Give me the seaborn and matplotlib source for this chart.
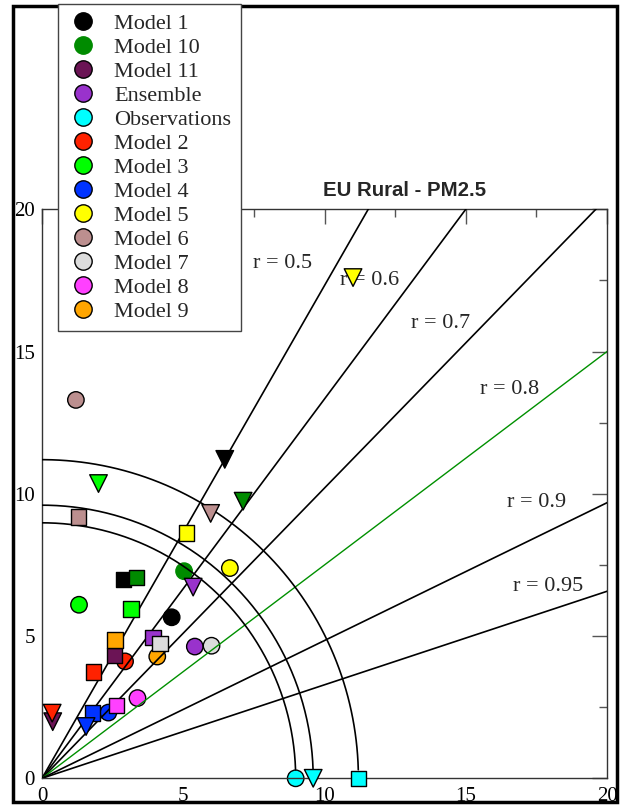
import numpy as np
import pandas as pd
import matplotlib

matplotlib.use("Agg")
import matplotlib.pyplot as plt
import seaborn as sns
from matplotlib.lines import Line2D
from matplotlib.patches import Rectangle
from matplotlib.ticker import MultipleLocator

# --- data ---
models = ["Model 1", "Model 10", "Model 11", "Ensemble", "Observations", "Model 2",
          "Model 3", "Model 4", "Model 5", "Model 6", "Model 7", "Model 8", "Model 9"]
colors = ["#000000", "#008b00", "#6b1455", "#9932cc", "#00ffff", "#ff2200",
          "#00ff00", "#0033ff", "#ffff00", "#bc8f8f", "#dcdcdc", "#ff40ff", "#ffa500"]

circle_x = [4.59, 5.03, np.nan, 5.41, 8.98, 2.94, 1.31, 2.35, 6.65, 1.20, 6.00, 3.38, 4.08]
circle_y = [5.66, 7.28, np.nan, 4.63, 0.00, 4.11, 6.10, 2.31, 7.39, 13.30, 4.66, 2.82, 4.28]
square_x = [2.88, 3.35, 2.56, 3.92, 11.20, 1.82, 3.15, 1.79, 5.12, 1.30, 4.17, 2.64, 2.58]
square_y = [6.98, 7.06, 4.31, 4.95, 0.00, 3.74, 5.96, 2.29, 8.63, 9.19, 4.73, 2.56, 4.87]
tri_x = [6.47, 7.12, 0.38, 5.35, 9.60, 0.36, 2.00, 1.56, 11.01, 5.97, np.nan, np.nan, np.nan]
tri_y = [11.21, 9.74, 1.99, 6.72, 0.00, 2.29, 10.36, 1.82, 17.60, 9.31, np.nan, np.nan, np.nan]

corr_levels = [0.5, 0.6, 0.7, 0.8, 0.9, 0.95]
corr_labels = ["r = 0.5", "r = 0.6", "r = 0.7", "r = 0.8", "r = 0.9", "r = 0.95"]
obs_std = [8.98, 9.6, 11.2]

TITLE = "EU Rural - PM2.5"

palette = dict(zip(models, colors))

sns.set_style("white")
plt.rcParams["font.family"] = ["Liberation Serif", "DejaVu Serif"]

fig = plt.figure(figsize=(6.24, 8.05), dpi=100)
ax = fig.add_axes([42 / 624, 1 - 778.3 / 805, 565 / 624, 569 / 805])

# correlation rays
for r in corr_levels:
    th = np.arccos(r)
    col = "#009000" if r == 0.8 else "black"
    lw = 1.0 if r == 0.8 else 1.2
    ax.plot([0, 30 * np.cos(th)], [0, 30 * np.sin(th)], color=col, lw=lw, zorder=3)

# std-dev arcs of the observations
for R in obs_std:
    t = np.linspace(np.arcsin(0.3 / R), np.pi / 2, 200)
    ax.plot(R * np.cos(t), R * np.sin(t), color="black", lw=1.2, zorder=3)

label_pos = [(8.5, 18.1), (11.6, 17.5), (14.1, 16.0), (16.55, 13.65), (17.5, 9.7), (17.9, 6.75)]
for txt, (lx, ly) in zip(corr_labels, label_pos):
    ax.text(lx, ly, txt, fontsize=16, ha="center", va="center", zorder=3.5)

# markers
shapes = [("o", circle_x, circle_y, 140, 2), ("s", square_x, square_y, 125, 4),
          ("v", tri_x, tri_y, 160, 5)]
for marker, xs, ys, size, z in shapes:
    df = pd.DataFrame({"model": models, "x": xs, "y": ys}).dropna()
    edges = ["#008b00" if (m == "Model 10" and marker == "o") else "black" for m in df["model"]]
    sns.scatterplot(data=df, x="x", y="y", hue="model", palette=palette, marker=marker,
                    s=size, edgecolor=edges, linewidth=1.0, legend=False,
                    zorder=z, clip_on=False, ax=ax)

ax.set_xlim(0, 20)
ax.set_ylim(0, 20)
ax.set_xlabel("")
ax.set_ylabel("")
ax.xaxis.set_major_locator(MultipleLocator(5))
ax.yaxis.set_major_locator(MultipleLocator(5))
ax.xaxis.set_minor_locator(MultipleLocator(2.5))
ax.yaxis.set_minor_locator(MultipleLocator(2.5))
ax.tick_params(which="both", direction="in", top=True, right=True, color="#555555",
               width=1.0, labelsize=15, labelcolor="black")
ax.tick_params(which="major", length=10.8)
ax.tick_params(which="minor", length=5.8)
ax.tick_params(axis="x", pad=6)
ax.tick_params(axis="y", pad=5)
for sp in ax.spines.values():
    sp.set_color("#333333")
    sp.set_linewidth(1.0)

fig.text(405 / 624, 1 - 190 / 805, TITLE, fontsize=14.7, fontweight="bold",
         family=["Liberation Sans", "DejaVu Sans"], ha="center", va="center")

# outer frame
fig.patches.append(Rectangle((13 / 624, 1 - 802 / 805), 604 / 624, 796 / 805,
                             transform=fig.transFigure, fill=False, lw=2.5,
                             edgecolor="black", zorder=1))

handles = [Line2D([], [], marker="o", ls="none", markersize=12.5, markerfacecolor=c,
                  markeredgecolor=("#008b00" if m == "Model 10" else "black"),
                  markeredgewidth=1.0) for m, c in zip(models, colors)]
leg = fig.legend(handles, models, loc="upper left", bbox_to_anchor=(58 / 624, 1 - 4 / 805),
                 bbox_transform=fig.transFigure, borderaxespad=0, fontsize=16,
                 frameon=True, fancybox=False, framealpha=1, edgecolor="#444444",
                 labelspacing=0.155, handlelength=1.4, handletextpad=0.72, borderpad=0.42)
leg.get_frame().set_linewidth(1.0)
leg.set_zorder(10)

fig.savefig("out.png", dpi=100)
